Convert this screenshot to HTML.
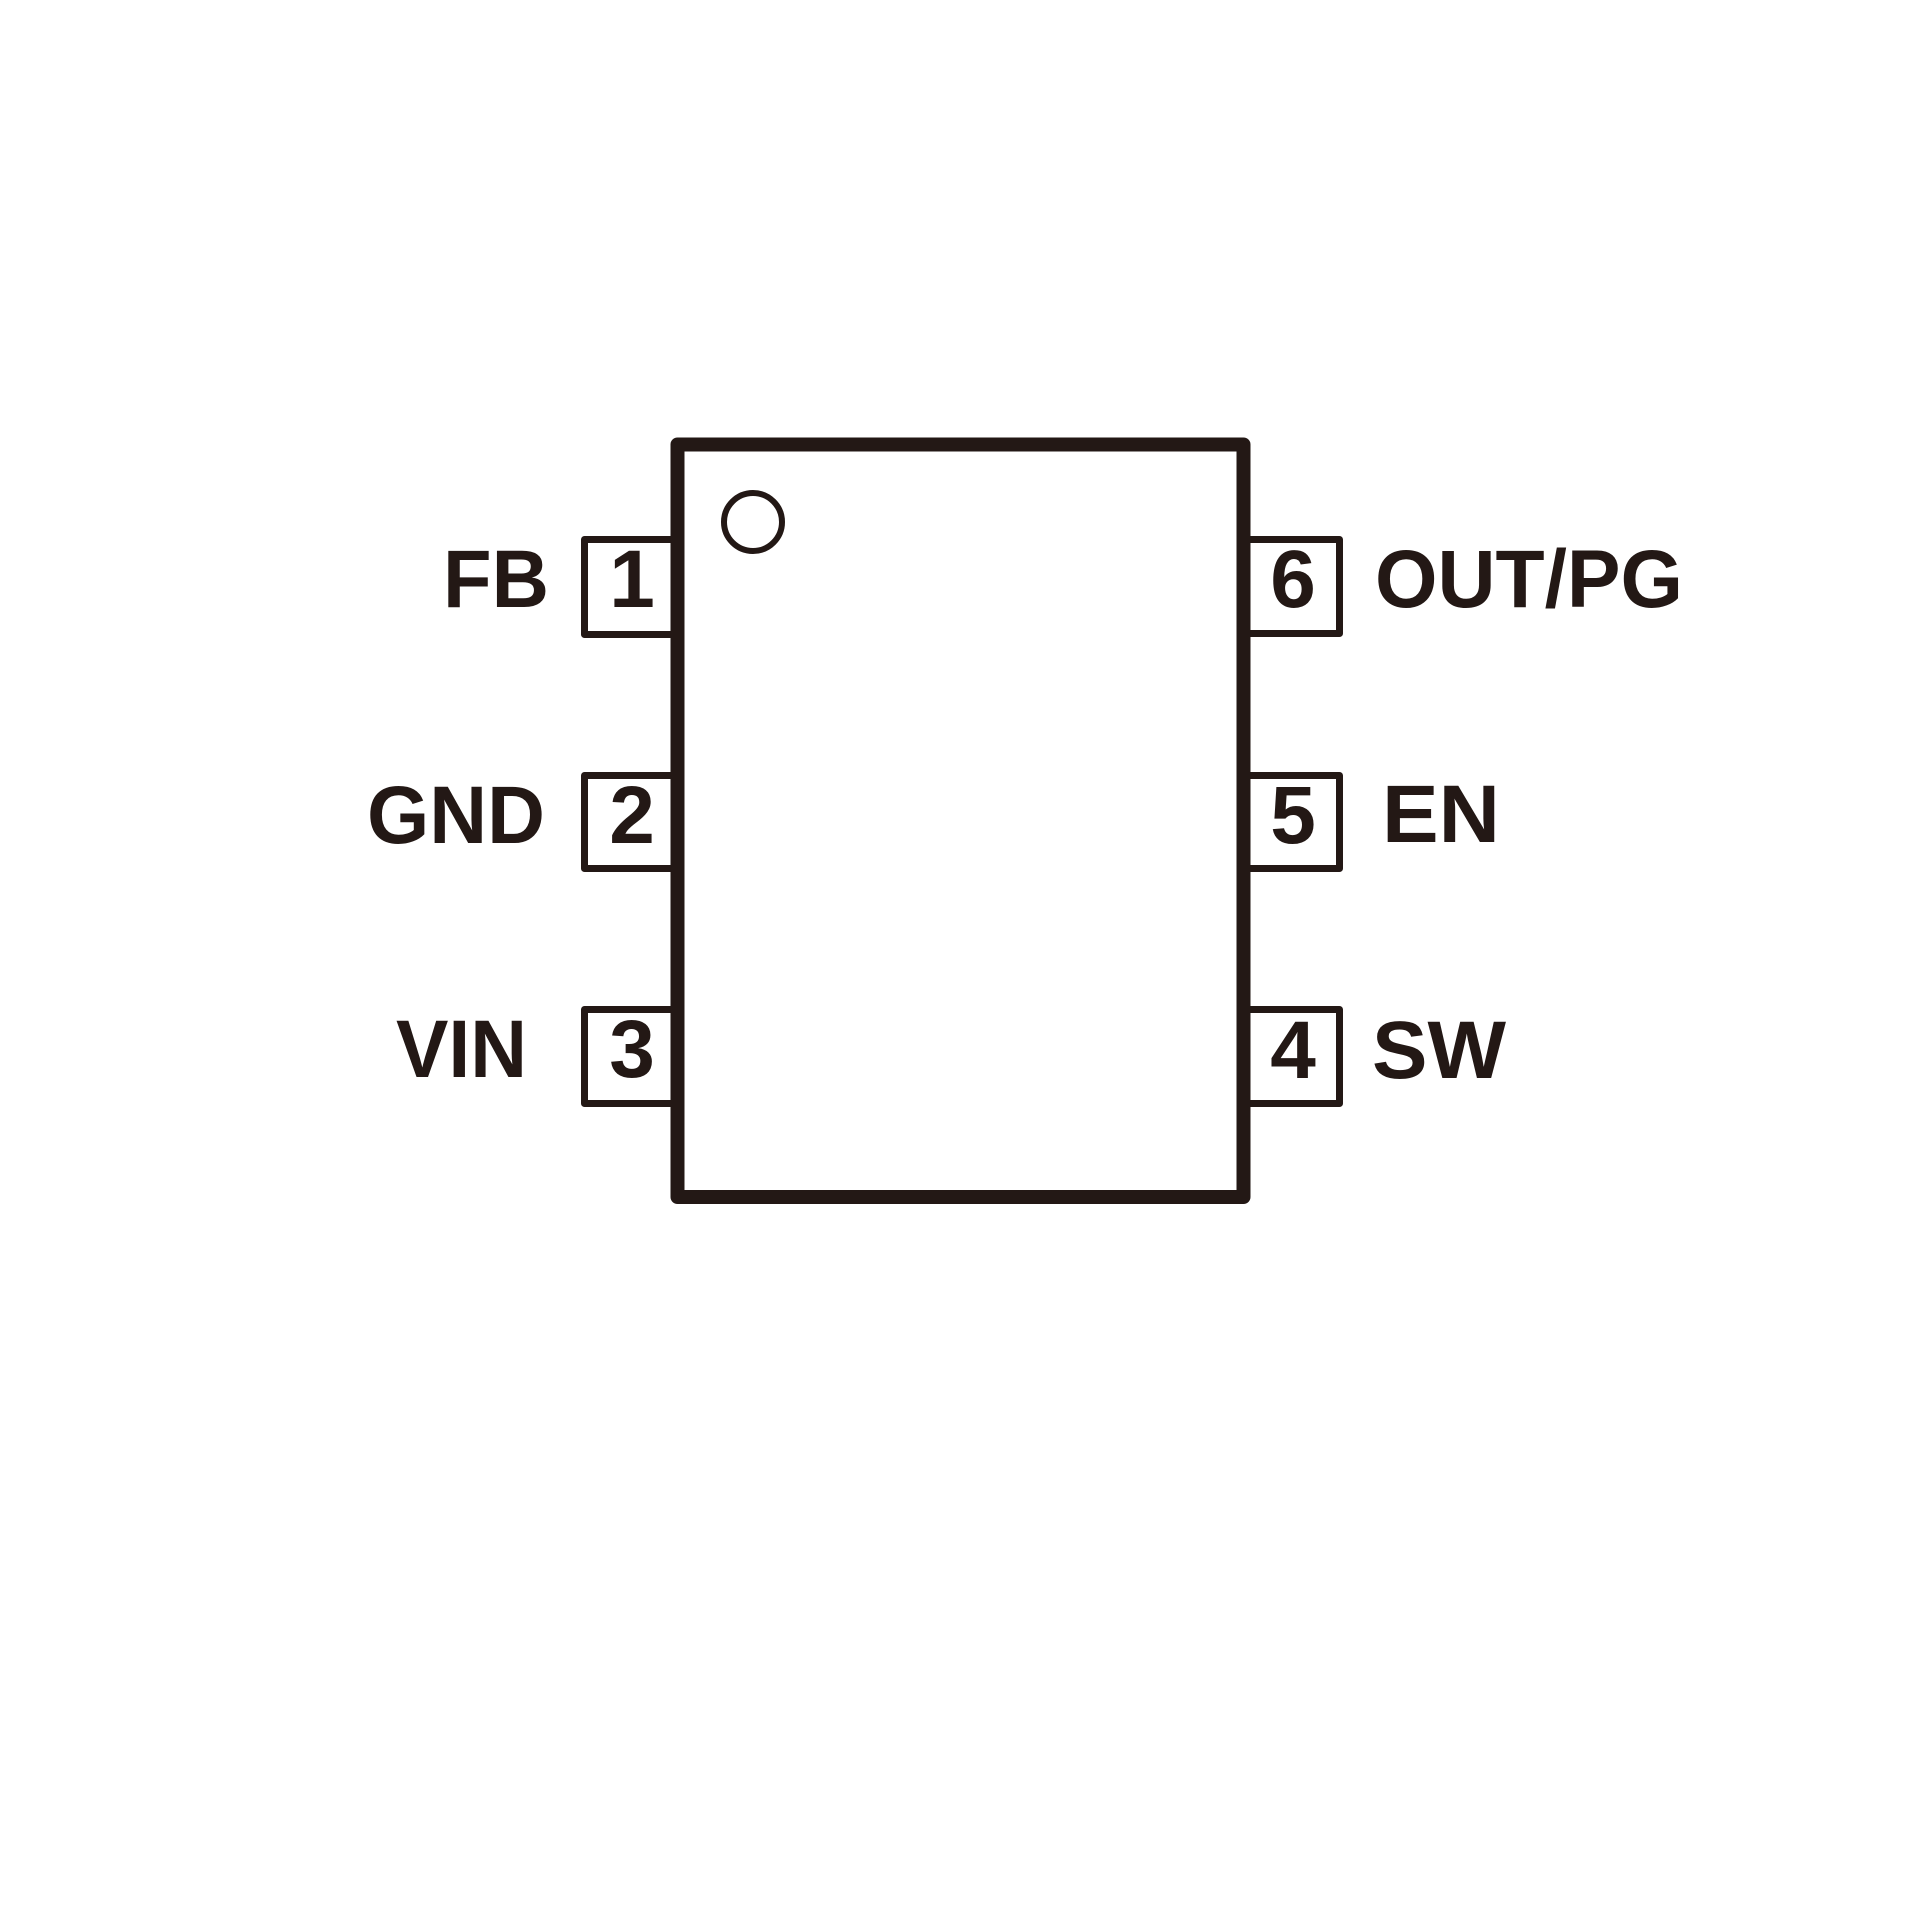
<!DOCTYPE html>
<html><head><meta charset="utf-8"><style>
html,body{margin:0;padding:0;background:#fff;}
svg{display:block;}
text{font-family:"Liberation Sans",Arial,sans-serif;font-weight:bold;fill:#231815;font-size:82px;}
</style></head><body>
<svg width="1920" height="1920" viewBox="0 0 1920 1920" xmlns="http://www.w3.org/2000/svg">
<g fill="none" stroke="#231815" stroke-linejoin="round">
<!-- pins left -->
<path d="M678 539.5 H584.5 V634.5 H678" stroke-width="7"/>
<path d="M678 775.5 H584.5 V868.5 H678" stroke-width="7"/>
<path d="M678 1009.5 H584.5 V1103.5 H678" stroke-width="7"/>
<!-- pins right -->
<path d="M1244 539.5 H1339.5 V633.5 H1244" stroke-width="7"/>
<path d="M1244 775.5 H1339.5 V868.5 H1244" stroke-width="7"/>
<path d="M1244 1009.5 H1339.5 V1103.5 H1244" stroke-width="7"/>
<!-- body -->
<rect x="677.5" y="444.5" width="566" height="752.5" stroke-width="14"/>
<circle cx="753" cy="522" r="29" stroke-width="6"/>
</g>
<!-- numbers -->
<text x="632" y="607" text-anchor="middle">1</text>
<text x="632" y="843" text-anchor="middle">2</text>
<text x="632" y="1077" text-anchor="middle">3</text>
<text x="1293" y="607" text-anchor="middle">6</text>
<text x="1293" y="843" text-anchor="middle">5</text>
<text x="1293" y="1078" text-anchor="middle">4</text>
<!-- labels -->
<text x="443" y="607" textLength="106" lengthAdjust="spacingAndGlyphs">FB</text>
<text x="367" y="843" textLength="178" lengthAdjust="spacingAndGlyphs">GND</text>
<text x="396" y="1077" textLength="131" lengthAdjust="spacingAndGlyphs">VIN</text>
<text x="1375" y="607" textLength="308" lengthAdjust="spacingAndGlyphs">OUT/PG</text>
<text x="1382" y="842" textLength="118" lengthAdjust="spacingAndGlyphs">EN</text>
<text x="1372" y="1078" textLength="134" lengthAdjust="spacingAndGlyphs">SW</text>
</svg>
</body></html>
